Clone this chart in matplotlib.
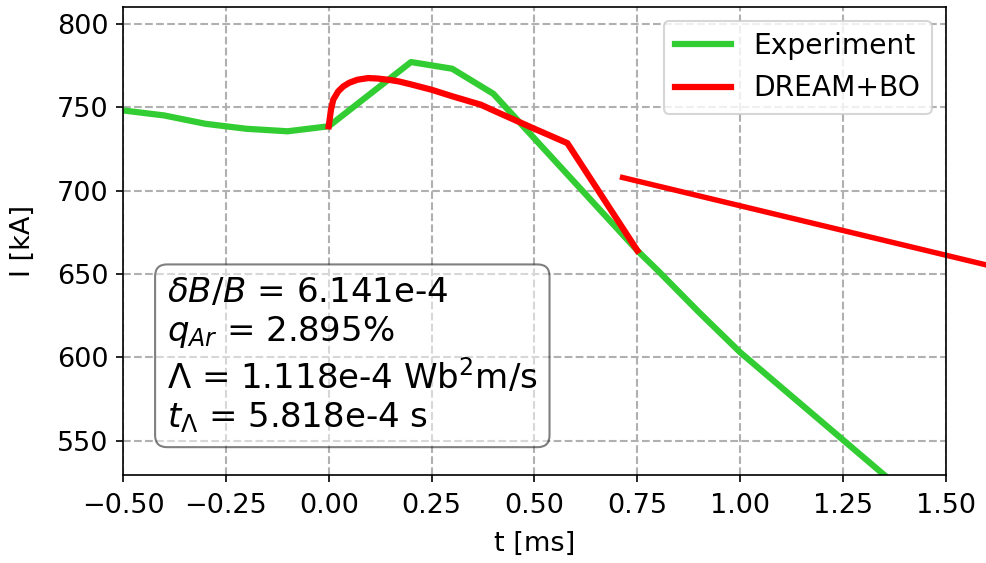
import numpy as np
import matplotlib.pyplot as plt

# measured plasma current
t_exp = [-0.5, -0.4, -0.3, -0.2, -0.1, 0.0, 0.2, 0.3, 0.4, 0.75, 0.8, 0.9, 1.0, 1.1, 1.2, 1.3, 1.4]
I_exp = [748, 745, 740, 737, 735.5, 738.5, 777, 773, 758, 664, 652, 627, 603, 582, 561, 540, 519]

# simulated current (DREAM, Bayesian-optimised parameters)
t_sim = [0.0, 0.0055, 0.011, 0.023, 0.0355, 0.05, 0.07, 0.096, 0.12, 0.15,
         0.17, 0.2, 0.25, 0.3, 0.37, 0.4, 0.5, 0.58, 0.75]
I_sim = [738.5, 748.4, 754.4, 759.4, 762.4, 764.6, 766.4, 767.4, 767.1, 766.2,
         765.4, 763.6, 760.4, 756.5, 751.4, 748, 737, 728.4, 664]

# current quench fit segment
t_fit = [0.714, 1.75]
I_fit = [707.8, 646.4]

params = [
    r'$\delta B/B$ = 6.141e-4',
    r'$q_{Ar}$ = 2.895%',
    r'$\Lambda$ = 1.118e-4 Wb$^2$m/s',
    r'$t_{\Lambda}$ = 5.818e-4 s',
]

fig = plt.figure(figsize=(986 / 150, 563 / 150), dpi=150)
ax = fig.add_axes([0.1247, 0.1563, 0.8347, 0.8313])

ax.plot(t_exp, I_exp, color='limegreen', lw=3, label='Experiment')
ax.plot(t_sim, I_sim, color='red', lw=3, label='DREAM+BO')
ax.plot(t_fit, I_fit, color='red', lw=2.6, clip_on=False)

ax.set_xlim(-0.5, 1.5)
ax.set_ylim(529.5, 810)
ax.set_xlabel('t [ms]', fontsize=13, labelpad=6)
ax.set_ylabel('I [kA]', fontsize=13, labelpad=10)
ax.tick_params(labelsize=13)
ax.tick_params(axis='x', pad=5)
ax.grid(True, linestyle='--', lw=1)
ax.legend(loc='upper right', fontsize=13.5)

ax.text(-0.393, 649, '\n'.join(params), fontsize=16.3, va='top', ha='left',
        linespacing=1.2,
        bbox=dict(boxstyle='round,pad=0.35', facecolor='white', alpha=0.5))

fig.savefig('out.png', dpi=150)
